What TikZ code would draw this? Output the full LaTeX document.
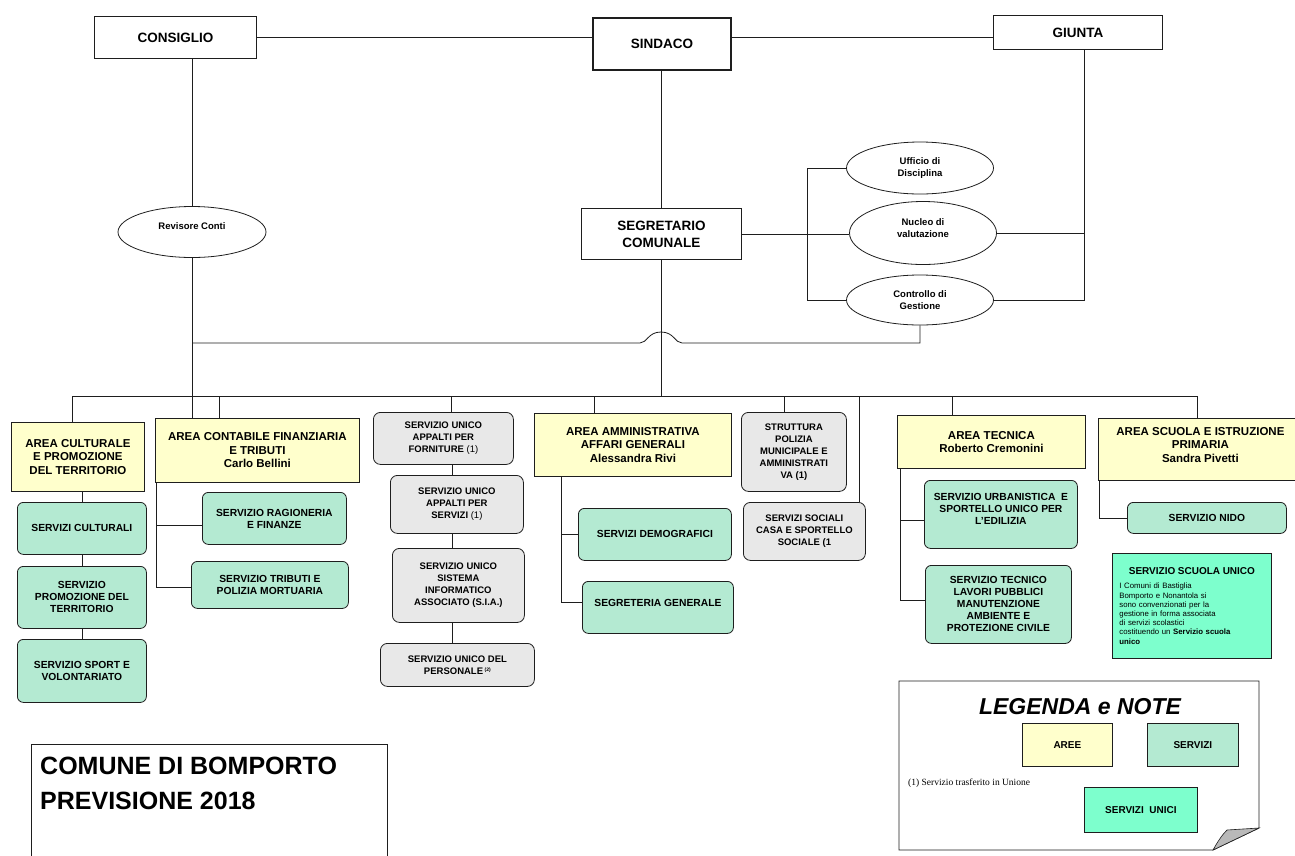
\documentclass[tikz,border=0pt]{standalone}
\usepackage{fontspec}
\setmainfont{Liberation Sans}
\newfontfamily\serifnote{Liberation Serif}
\usetikzlibrary{shapes.geometric}
\definecolor{areay}{RGB}{255,255,204}
\definecolor{servg}{RGB}{180,234,210}
\definecolor{unig}{RGB}{232,232,232}
\definecolor{aqua}{RGB}{125,255,205}
\definecolor{ink}{RGB}{30,30,30}
\tikzset{
  wh/.style 2 args={minimum width=#1pt, minimum height=#2pt, anchor=north west},
  base/.style={draw=ink, line width=0.8pt, align=center, inner sep=1pt},
  topbox/.style={base, fill=white, font=\fontsize{13.5}{16}\selectfont\bfseries},
  areabox/.style={base, fill=areay, font=\fontsize{11.5}{13.5}\selectfont\bfseries},
  servbox/.style={base, fill=servg, rounded corners=6pt, font=\fontsize{10.3}{12}\selectfont\bfseries},
  unicobox/.style={base, fill=unig, rounded corners=7pt, font=\fontsize{9.5}{12}\selectfont\bfseries},
  oval/.style={ellipse, draw=ink, line width=0.8pt, fill=white, align=center, inner sep=0pt, font=\fontsize{9.5}{12}\selectfont\bfseries},
  conn/.style={draw=ink, line width=0.8pt},
}
\begin{document}
\begin{tikzpicture}[x=1pt,y=-1pt]
\useasboundingbox (0,0) rectangle (1295,855);
\fill[white] (0,0) rectangle (1295,855);

% top level
\node[topbox, wh={162}{42}] (consiglio) at (94,16) {CONSIGLIO};
\node[topbox, wh={138}{52}, line width=2pt] (sindaco) at (592,17) {SINDACO};
\node[topbox, wh={169}{34}] (giunta) at (993,15) {GIUNTA};
\node[oval, minimum width=148pt, minimum height=51pt] (revisore) at (192,232) {Revisore Conti\\\mbox{}};
\node[topbox, wh={160}{51}, font=\fontsize{13.5}{17}\selectfont\bfseries] (segretario) at (581,208) {SEGRETARIO\\COMUNALE};
\node[oval, minimum width=147pt, minimum height=52pt] (ufficio) at (920,168) {Ufficio di\\Disciplina};
\node[oval, minimum width=147pt, minimum height=63pt] (nucleo) at (923,233) {Nucleo di\\valutazione\\[-3pt]\mbox{}};
\node[oval, minimum width=147pt, minimum height=50pt] (controllo) at (920,300) {Controllo di\\Gestione};

% areas
\node[areabox, wh={133}{69}] (acult) at (11,422) {AREA CULTURALE\\E PROMOZIONE\\DEL TERRITORIO};
\node[areabox, wh={204}{64}] (acont) at (155,418) {AREA CONTABILE FINANZIARIA\\E TRIBUTI\\Carlo Bellini};
\node[areabox, wh={197}{63}] (aamm) at (534,413) {AREA AMMINISTRATIVA\\AFFARI GENERALI\\Alessandra Rivi};
\node[areabox, wh={188}{53}] (atec) at (897,415) {AREA TECNICA\\Roberto Cremonini};
\node[areabox, wh={204}{62}] (asc) at (1098,418) {AREA SCUOLA E ISTRUZIONE\\PRIMARIA\\Sandra Pivetti\\[-4pt]\mbox{}};

% servizi
\node[servbox, wh={129}{52}] (scult) at (17,502) {SERVIZI CULTURALI};
\node[servbox, wh={129}{62}] (sprom) at (17,566) {SERVIZIO\\PROMOZIONE DEL\\TERRITORIO};
\node[servbox, wh={129}{63}] (ssport) at (17,639) {SERVIZIO SPORT E\\VOLONTARIATO};
\node[servbox, wh={144}{52}] (srag) at (202,492) {SERVIZIO RAGIONERIA\\E FINANZE};
\node[servbox, wh={157}{47}] (strib) at (191,561) {SERVIZIO TRIBUTI E\\POLIZIA MORTUARIA};
\node[servbox, wh={153}{52}] (sdemo) at (578,508) {SERVIZI DEMOGRAFICI};
\node[servbox, wh={151}{52}] (sseg) at (582,581) {SEGRETERIA GENERALE\\[-3pt]\mbox{}};
\node[servbox, wh={153}{68}] (surb) at (924,480) {SERVIZIO URBANISTICA\ \ E\\SPORTELLO UNICO PER\\L'EDILIZIA\\\mbox{}};
\node[servbox, wh={146}{78}] (stec) at (925,565) {SERVIZIO TECNICO\\LAVORI PUBBLICI\\MANUTENZIONE\\AMBIENTE E\\PROTEZIONE CIVILE};
\node[servbox, wh={159}{31}] (snido) at (1127,502) {SERVIZIO NIDO};

% servizi unici
\node[unicobox, wh={140}{52}] (uforn) at (373,412) {SERVIZIO UNICO\\APPALTI PER\\FORNITURE {\mdseries(1)}};
\node[unicobox, wh={133}{58}] (userv) at (390,475) {SERVIZIO UNICO\\APPALTI PER\\SERVIZI {\mdseries(1)}};
\node[unicobox, wh={132}{74}] (usia) at (392,548) {SERVIZIO UNICO\\SISTEMA\\INFORMATICO\\ASSOCIATO (S.I.A.)};
\node[unicobox, wh={154}{43}] (upers) at (380,643) {SERVIZIO UNICO DEL\\PERSONALE\,\raisebox{3pt}{\fontsize{5}{5}\selectfont(2)}};
\node[unicobox, wh={105}{79}] (polizia) at (741,412) {STRUTTURA\\POLIZIA\\MUNICIPALE E\\AMMINISTRATI\\VA (1)};
\node[unicobox, wh={122}{58}] (sociali) at (743,502) {SERVIZI SOCIALI\\CASA E SPORTELLO\\SOCIALE (1};

% servizio scuola unico
\node[base, fill=aqua, wh={159}{105}, align=left, text width=145pt, inner sep=6pt, font=\fontsize{7.8}{9.2}\selectfont] (sscuola) at (1112,553)
  {\centering{\fontsize{10}{12}\selectfont\bfseries SERVIZIO SCUOLA UNICO}\par\vspace{5pt}
   \raggedright I Comuni di Bastiglia\\Bomporto e Nonantola si\\sono convenzionati per la\\gestione in forma associata\\di servizi scolastici\\costituendo un \textbf{Servizio scuola}\\\textbf{unico}\par};

% connectors top
\draw[conn] (consiglio.east) -- (consiglio.east -| sindaco.west);
\draw[conn] (consiglio.east -| sindaco.east) -- (consiglio.east -| giunta.west);
\draw[conn] (revisore.north |- consiglio.south) -- (revisore.north);
\draw[conn] (segretario.north |- sindaco.south) -- (segretario.north);
\coordinate (brk) at (807,234);
\draw[conn] (ufficio.west) -- (ufficio.west -| brk) -- (controllo.west -| brk) -- (controllo.west);
\draw[conn] (segretario.east) -- (segretario.east -| nucleo.west);
\coordinate (gj) at (1084,0);
\draw[conn] (giunta.south -| gj) -- (controllo.east -| gj) -- (controllo.east);
\draw[conn] (nucleo.east) -- (nucleo.east -| gj);

% hop line
\coordinate (hopL) at (192,343);
\draw[conn] (hopL) -- (640,343) .. controls (647,343) and (648,332) .. (661,332)
  .. controls (674,332) and (675,343) .. (682,343) -- (controllo.south |- hopL) -- (controllo.south);

% bus
\coordinate (busL) at (72,396);
\coordinate (busR) at (1197,396);
\draw[conn] (busL |- acult.north) -- (busL) -- (busR) -- (busR |- asc.north);
\draw[conn] (revisore.south) -- (revisore.south |- acont.north);
\draw[conn] (segretario.south) -- (segretario.south |- busL);
\coordinate (dA) at (219,396);
\coordinate (dU) at (451,396);
\coordinate (dM) at (594,396);
\coordinate (dP) at (784,396);
\coordinate (dS) at (859,396);
\coordinate (dT) at (952,396);
\draw[conn] (dA) -- (dA |- acont.north);
\draw[conn] (dU) -- (dU |- uforn.north);
\draw[conn] (dM) -- (dM |- aamm.north);
\draw[conn] (dP) -- (dP |- polizia.north);
\draw[conn] (dS) -- (dS |- sociali.north);
\draw[conn] (dT) -- (dT |- atec.north);

% area culturale column
\draw[conn] (acult.south -| scult.north) -- (scult.north);
\draw[conn] (scult.south) -- (sprom.north);
\draw[conn] (sprom.south) -- (ssport.north);

% area contabile
\coordinate (ac) at (156,0);
\coordinate (ac1) at (156,525);
\coordinate (ac2) at (156,587);
\draw[conn] (acont.south -| ac) -- (ac2) -- (ac2 -| strib.west);
\draw[conn] (ac1) -- (ac1 -| srag.west);

% unici column
\coordinate (ux) at (452,0);
\draw[conn] (uforn.south -| ux) -- (userv.north -| ux);
\draw[conn] (userv.south -| ux) -- (usia.north -| ux);
\draw[conn] (usia.south -| ux) -- (upers.north -| ux);

% area amministrativa
\coordinate (am) at (561,0);
\coordinate (am2) at (561,602);
\draw[conn] (aamm.south -| am) -- (am2) -- (am2 -| sseg.west);
\draw[conn] (sdemo.west -| am) -- (sdemo.west);

% area tecnica
\coordinate (tx) at (900,0);
\coordinate (tx1) at (900,520);
\coordinate (tx2) at (900,600);
\draw[conn] (atec.south -| tx) -- (tx2) -- (tx2 -| stec.west);
\draw[conn] (tx1) -- (tx1 -| surb.west);

% area scuola
\coordinate (sx) at (1099,0);
\draw[conn] (asc.south -| sx) |- (snido.west);

% title box
\draw[draw=ink, line width=0.8pt] (31,860) -- (31,744) -- (387,744) -- (387,860);
\node[anchor=north west, inner sep=0pt, align=left, font=\fontsize{25}{35}\selectfont\bfseries] (title) at (40,757) {COMUNE DI BOMPORTO\\PREVISIONE 2018};

% legend
\draw[draw=ink, line width=0.8pt, fill=white] (899,681) -- (1259,681) -- (1259,828) -- (1213,850) -- (899,850) -- cycle;
\fill[gray!55, draw=ink, line width=0.6pt] (1213,850) .. controls (1218,841) and (1222,835) .. (1227,830) -- (1259,828) -- cycle;
\node[font=\fontsize{23}{26}\selectfont\bfseries\itshape] (legtitle) at (1080,707) {LEGENDA e NOTE};
\node[areabox, wh={90}{43}, font=\fontsize{10}{12}\selectfont\bfseries] (legaree) at (1022,723) {AREE};
\node[base, fill=servg, wh={91}{43}, font=\fontsize{10}{12}\selectfont\bfseries] (legserv) at (1147,723) {SERVIZI};
\node[base, fill=aqua, wh={113}{45}, font=\fontsize{10}{12}\selectfont\bfseries] (legunici) at (1084,787) {SERVIZI\ \ UNICI};
\node[anchor=west, inner sep=0pt, font=\serifnote\fontsize{9.5}{11}\selectfont] (legnote) at (908,783) {(1) Servizio trasferito in Unione};
\end{tikzpicture}
\end{document}
